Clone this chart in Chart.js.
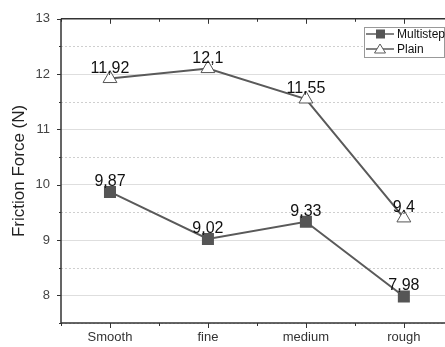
<!DOCTYPE html>
<html lang="en">
  <head>
    <meta charset="UTF-8" />
    <title>Friction Force</title>
    <script src="https://cdn.jsdelivr.net/npm/chart.js"></script>
    <style>
      html, body { margin: 0; padding: 0; background: #fff; }
      .wrap { width: 445px; height: 347px; position: relative; }
    </style>
  </head>
  <body>
    <div class="wrap"><canvas id="frictionChart"></canvas></div>

    <script>
      // data
      const categories = ["Smooth", "fine", "medium", "rough"];
      const multistep = [9.87, 9.02, 9.33, 7.98];
      const plain = [11.92, 12.1, 11.55, 9.4];
      const yTicks = [8, 9, 10, 11, 12, 13];

      const lineColor = "#5a5a5a";
      const fmt = (v) => String(v).replace(".", ",");

      // axes frame, minor grid, ticks, value labels and legend
      const decor = {
        id: "decor",
        beforeDatasetsDraw(chart) {
          const { ctx, chartArea: a, scales } = chart;
          const y = scales.y;
          ctx.save();
          ctx.strokeStyle = "#cfcfcf";
          ctx.lineWidth = 1;
          ctx.setLineDash([2, 2]);
          for (let v = 7.5; v < 13; v += 1) {
            const py = Math.round(y.getPixelForValue(v)) + 0.5;
            ctx.beginPath();
            ctx.moveTo(a.left, py);
            ctx.lineTo(a.right, py);
            ctx.stroke();
          }
          ctx.restore();
        },
        afterDatasetsDraw(chart) {
          const { ctx, chartArea: a, scales } = chart;
          const x = scales.x, y = scales.y;
          ctx.save();
          ctx.strokeStyle = "#333";
          ctx.lineWidth = 1.5;
          ctx.beginPath();
          ctx.moveTo(a.left, a.top);
          ctx.lineTo(a.left, a.bottom);
          ctx.lineTo(a.right, a.bottom);
          ctx.moveTo(a.left, a.top);
          ctx.lineTo(a.right, a.top);
          ctx.stroke();

          ctx.lineWidth = 1;
          // y ticks (outward)
          for (let v = 7.5; v <= 13; v += 0.5) {
            const py = Math.round(y.getPixelForValue(v)) + 0.5;
            const len = Number.isInteger(v) ? 4 : 2;
            ctx.beginPath();
            ctx.moveTo(a.left - len, py);
            ctx.lineTo(a.left, py);
            ctx.stroke();
          }
          // x ticks, bottom outward, top inward
          for (let v = -0.5; v <= 3.5; v += 0.5) {
            const px = Math.round(x.getPixelForValue(v)) + 0.5;
            if (px > a.right) continue;
            const len = Number.isInteger(v) ? 5 : 3;
            ctx.beginPath();
            ctx.moveTo(px, a.bottom);
            ctx.lineTo(px, a.bottom + len);
            ctx.moveTo(px, a.top);
            ctx.lineTo(px, a.top + len);
            ctx.stroke();
          }

          // value labels
          ctx.fillStyle = "#111";
          ctx.font = "16px 'Liberation Sans', Arial, sans-serif";
          ctx.textAlign = "center";
          ctx.textBaseline = "alphabetic";
          chart.data.datasets.forEach((ds, i) => {
            chart.getDatasetMeta(i).data.forEach((pt, j) => {
              ctx.fillText(fmt(ds.data[j].y), pt.x, pt.y - 6);
            });
          });

          // legend box
          const bx = 364, by = 27, bw = 80, bh = 30;
          ctx.fillStyle = "#fff";
          ctx.fillRect(bx, by, bw, bh);
          ctx.strokeStyle = "#999";
          ctx.strokeRect(bx + 0.5, by + 0.5, bw, bh);
          const rows = [
            { label: "Multistep", yy: 34, kind: "rect" },
            { label: "Plain", yy: 49, kind: "tri" },
          ];
          rows.forEach((r) => {
            ctx.strokeStyle = lineColor;
            ctx.lineWidth = 1.5;
            ctx.beginPath();
            ctx.moveTo(366, r.yy);
            ctx.lineTo(394, r.yy);
            ctx.stroke();
            if (r.kind === "rect") {
              ctx.fillStyle = "#555";
              ctx.fillRect(376, r.yy - 4.5, 9, 9);
            } else {
              ctx.fillStyle = "#fff";
              ctx.lineWidth = 1;
              ctx.beginPath();
              ctx.moveTo(380, r.yy - 5);
              ctx.lineTo(385.5, r.yy + 4);
              ctx.lineTo(374.5, r.yy + 4);
              ctx.closePath();
              ctx.fill();
              ctx.stroke();
            }
            ctx.fillStyle = "#111";
            ctx.font = "12px 'Liberation Sans', Arial, sans-serif";
            ctx.textAlign = "left";
            ctx.textBaseline = "middle";
            ctx.fillText(r.label, 397, r.yy + 1);
          });
          ctx.restore();
        },
      };

      const toPoints = (arr) => arr.map((v, i) => ({ x: i, y: v }));

      new Chart(document.getElementById("frictionChart"), {
        type: "line",
        data: {
          datasets: [
            {
              label: "Multistep",
              data: toPoints(multistep),
              borderColor: lineColor,
              borderWidth: 2,
              pointStyle: "rect",
              pointRadius: 8.5,
              pointBackgroundColor: "#555",
              pointBorderColor: "#555",
              pointBorderWidth: 0,
            },
            {
              label: "Plain",
              data: toPoints(plain),
              borderColor: lineColor,
              borderWidth: 2,
              pointStyle: "triangle",
              pointRadius: 8,
              pointBackgroundColor: "#fff",
              pointBorderColor: "#555",
              pointBorderWidth: 1,
            },
          ],
        },
        options: {
          responsive: true,
          maintainAspectRatio: false,
          animation: false,
          layout: {
            autoPadding: false,
            padding: { top: 17, right: 0, left: 0, bottom: 0 },
          },
          plugins: { legend: { display: false }, tooltip: { enabled: false } },
          scales: {
            x: {
              type: "linear",
              min: -0.5,
              max: 3.42,
              afterBuildTicks: (s) => {
                s.ticks = categories.map((_, i) => ({ value: i }));
              },
              afterFit: (s) => {
                s.height = 24;
                s.paddingRight = 0;
                s.paddingLeft = 0;
              },
              grid: { display: false, drawTicks: false },
              border: { display: false },
              ticks: {
                padding: 7,
                color: "#333",
                font: { size: 13, family: "'Liberation Sans', Arial" },
                callback: (v) => categories[v] ?? "",
              },
            },
            y: {
              min: 7.5,
              max: 13,
              afterBuildTicks: (s) => {
                s.ticks = yTicks.map((v) => ({ value: v }));
              },
              afterFit: (s) => { s.width = 61; },
              grid: { color: "#dedede", lineWidth: 1, drawTicks: false },
              border: { display: false },
              ticks: {
                padding: 11,
                color: "#444",
                font: { size: 13, family: "'Liberation Sans', Arial" },
              },
              title: {
                display: true,
                text: "Friction Force (N)",
                color: "#222",
                font: { size: 17, family: "'Liberation Sans', Arial" },
                padding: { top: 9, bottom: 0 },
              },
            },
          },
        },
        plugins: [decor],
      });
    </script>
  </body>
</html>
